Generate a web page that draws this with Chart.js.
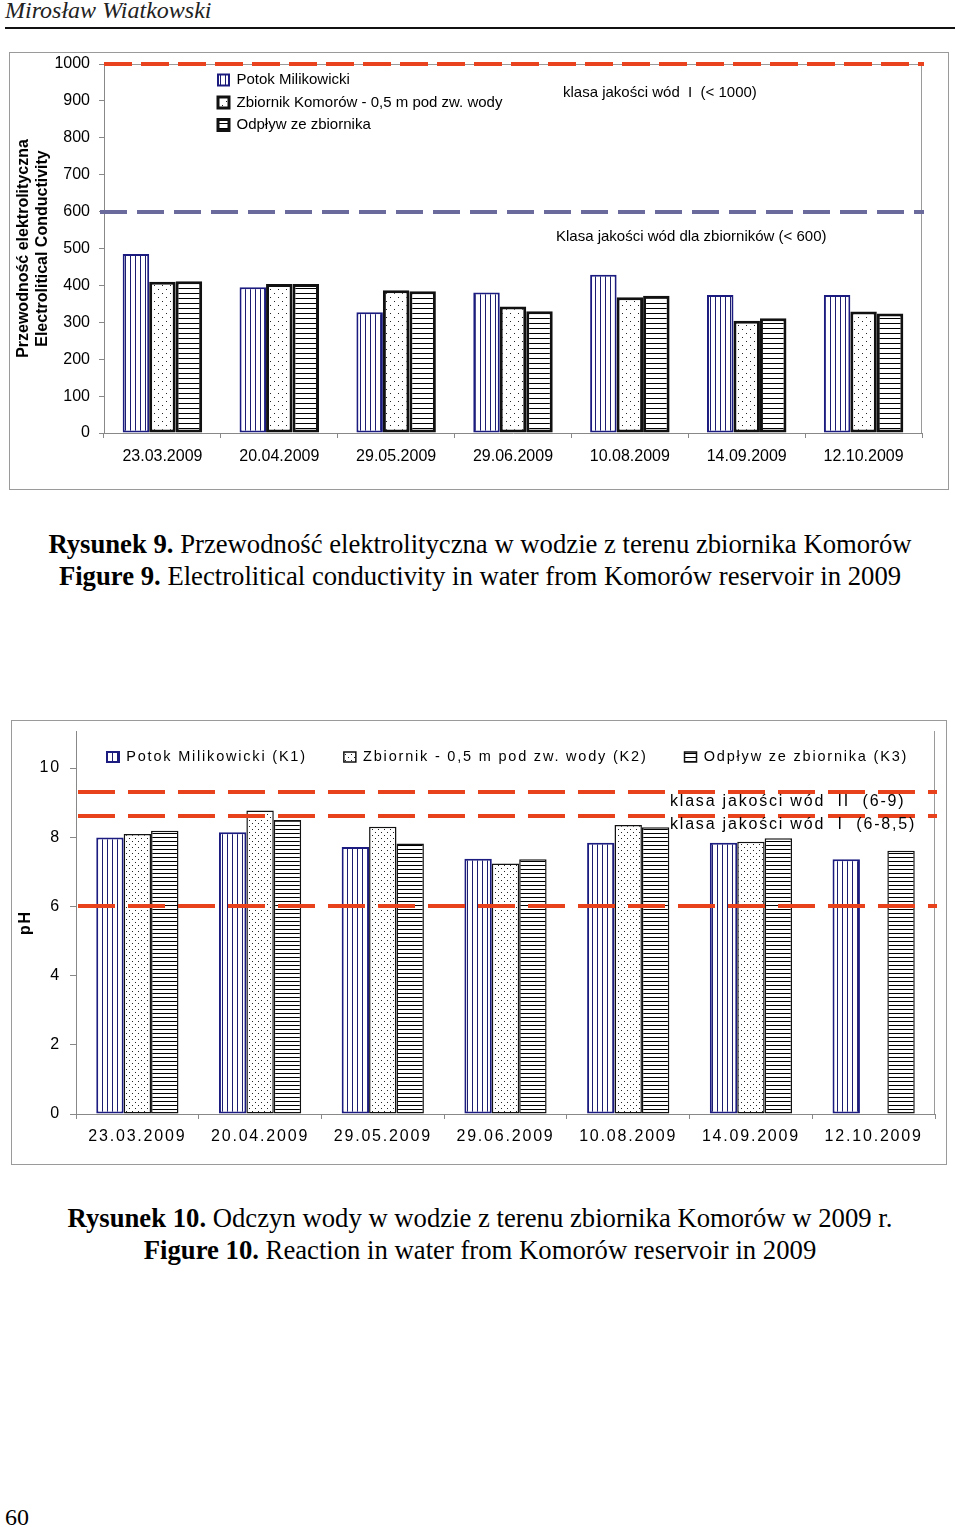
<!DOCTYPE html>
<html>
<head>
<meta charset="utf-8">
<script src="https://cdn.jsdelivr.net/npm/chart.js@4.4.1/dist/chart.umd.min.js"></script>
<style>
  body { margin: 0; background: #fff; }
  #strona { position: relative; width: 960px; height: 1527px; overflow: hidden; font-family: "Liberation Serif", "Times New Roman", serif; color: #000; }
  .autor { position: absolute; left: 5px; top: -4px; font-style: italic; font-size: 24px; line-height: 28px; color: #222; }
  .linia { position: absolute; left: 5px; top: 27px; width: 950px; height: 2px; background: #111; }
  .ramka { position: absolute; border: 1px solid #9a9a9a; box-sizing: border-box; }
  .ramka .wykres { position: absolute; left: 0; top: 0; right: 0; bottom: 0; }
  .podpis { position: absolute; left: 0; width: 960px; text-align: center; font-size: 26.7px; line-height: 32px; }
  .nr { position: absolute; left: 5px; top: 1503px; font-size: 24px; line-height: 28px; }
</style>
</head>
<body>
<div id="strona">
  <div class="autor">Mirosław Wiatkowski</div>
  <div class="linia"></div>

  <div class="ramka" style="left:9px; top:52px; width:940px; height:438px;">
    <div class="wykres"><canvas id="przewodnosc"></canvas></div>
  </div>
  <div class="podpis" style="top:528px;">
    <b>Rysunek 9.</b> Przewodność elektrolityczna w wodzie z terenu zbiornika Komorów<br>
    <b>Figure 9.</b> Electrolitical conductivity in water from Komorów reservoir in 2009
  </div>

  <div class="ramka" style="left:11px; top:720px; width:936px; height:445px;">
    <div class="wykres"><canvas id="odczyn"></canvas></div>
  </div>
  <div class="podpis" style="top:1202px;">
    <b>Rysunek 10.</b> Odczyn wody w wodzie z terenu zbiornika Komorów w 2009 r.<br>
    <b>Figure 10.</b> Reaction in water from Komorów reservoir in 2009
  </div>

  <div class="nr">60</div>
</div>

<script>
// daty poboru
const daty = ['23.03.2009', '20.04.2009', '29.05.2009', '29.06.2009', '10.08.2009', '14.09.2009', '12.10.2009'];

// przewodnosc elektrolityczna
const przewSerie = ['Potok Milikowicki', 'Zbiornik Komorów - 0,5 m pod zw. wody', 'Odpływ ze zbiornika'];
const przewK1 = [485, 395, 327, 381, 429, 374, 374];
const przewK2 = [410, 404, 387, 343, 368, 304, 329];
const przewK3 = [411, 404, 384, 330, 372, 311, 324];
const przewProgi = [1000, 600];
const przewOpisy = ['klasa jakości wód  I  (< 1000)', 'Klasa jakości wód dla zbiorników (< 600)'];

// odczyn pH
const phSerie = ['Potok Milikowicki (K1)', 'Zbiornik - 0,5 m pod zw. wody (K2)', 'Odpływ ze zbiornika (K3)'];
const phK1 = [7.99, 8.14, 7.72, 7.38, 7.84, 7.84, 7.36];
const phK2 = [8.09, 8.77, 8.30, 7.24, 8.35, 7.87, null];
const phK3 = [8.19, 8.50, 7.82, 7.36, 8.29, 7.97, 7.61];
const phProgi = [9.3, 8.62, 6];
const phOpisy = ['klasa jakości wód  II  (6-9)', 'klasa jakości wód  I  (6-8,5)'];

Chart.defaults.color = '#000';
Chart.defaults.font.family = '"Liberation Sans", Arial, sans-serif';

function wzor(w, h, rysuj) {
  const c = document.createElement('canvas');
  c.width = w; c.height = h;
  const g = c.getContext('2d');
  g.fillStyle = '#fff';
  g.fillRect(0, 0, w, h);
  rysuj(g);
  return g.createPattern(c, 'repeat');
}
const pionowe = (krok, kolor) => wzor(krok, 2, g => { g.fillStyle = kolor; g.fillRect(0, 0, 1, 2); });
const poziome = krok => wzor(2, krok, g => { g.fillStyle = '#000'; g.fillRect(0, 0, 2, 1); });
const kropki = krok => wzor(krok * 2, krok * 2, g => {
  g.fillStyle = '#222';
  g.fillRect(0, 0, 1, 1);
  g.fillRect(krok, krok, 1, 1);
});

// linie progowe, ramka obszaru i opisy
const progi = {
  id: 'progi',
  afterDatasetsDraw(chart, args, opts) {
    const { ctx, chartArea: a } = chart;
    const y = chart.scales.y;
    ctx.save();
    ctx.strokeStyle = '#9a9a9a';
    ctx.lineWidth = 1;
    ctx.beginPath();
    if (opts.gora) { ctx.moveTo(a.left, a.top + 0.5); ctx.lineTo(a.right, a.top + 0.5); }
    ctx.moveTo(a.right - 0.5, a.top);
    ctx.lineTo(a.right - 0.5, a.bottom);
    ctx.stroke();
    opts.linie.forEach(l => {
      const py = Math.round(y.getPixelForValue(l.wartosc));
      ctx.strokeStyle = l.kolor;
      ctx.lineWidth = 4;
      ctx.setLineDash(l.kreska);
      ctx.beginPath();
      ctx.moveTo(a.left + l.start, py);
      ctx.lineTo(a.right + 2, py);
      ctx.stroke();
    });
    ctx.setLineDash([]);
    ctx.fillStyle = '#000';
    ctx.font = opts.font;
    ctx.textBaseline = 'middle';
    opts.opisy.forEach(o => ctx.fillText(o.tekst, o.x, o.y));
    ctx.restore();
  }
};

// przesuniecie legendy w miejsce jak na oryginale
const legendaPoz = {
  id: 'legendaPoz',
  beforeInit(chart, args, opts) {
    if (!opts.bezMiejsca) return;
    const fit = chart.legend.fit;
    chart.legend.fit = function () { fit.call(this); this.height = 0; };
  },
  afterLayout(chart, args, opts) {
    const lg = chart.legend;
    lg.left = opts.x; lg.right = opts.x + chart.width;
    lg.top = opts.y; lg.bottom = opts.y + opts.h;
  }
};

const odstep = {
  id: 'odstep',
  beforeUpdate(chart) { chart.ctx.letterSpacing = '1.8px'; },
  beforeDraw(chart) { chart.ctx.letterSpacing = '1.8px'; }
};

// Rysunek 9
new Chart(document.getElementById('przewodnosc'), {
  type: 'bar',
  data: {
    labels: daty,
    datasets: [
      { label: przewSerie[0], data: przewK1, backgroundColor: pionowe(5, '#1c1c70'), borderColor: '#1c1c80', borderWidth: 2, borderSkipped: false },
      { label: przewSerie[1], data: przewK2, backgroundColor: kropki(4), borderColor: '#111', borderWidth: 3, borderSkipped: false },
      { label: przewSerie[2], data: przewK3, backgroundColor: poziome(5), borderColor: '#111', borderWidth: 3, borderSkipped: false }
    ]
  },
  options: {
    responsive: true,
    maintainAspectRatio: false,
    animation: false,
    layout: { padding: { top: 11, right: 26, left: 0, bottom: 0 } },
    datasets: { bar: { categoryPercentage: 0.68, barPercentage: 1 } },
    scales: {
      x: {
        grid: { drawOnChartArea: false, tickLength: 5, color: '#888', offset: true },
        border: { color: '#888' },
        ticks: { font: { size: 16 }, padding: 9, maxRotation: 0 },
        afterFit: s => { s.height = 56; }
      },
      y: {
        min: 0, max: 1000,
        grid: { drawOnChartArea: false, tickLength: 5, color: '#888' },
        border: { color: '#888' },
        ticks: { stepSize: 100, font: { size: 16 }, padding: 9, callback: v => String(v) },
        title: {
          display: true,
          text: ['Przewodność elektrolityczna', 'Electrolitical Conductivity'],
          font: { size: 16, weight: 'bold' },
          padding: { top: 3.5, bottom: 0 }
        },
        afterFit: s => { s.width = 94; s.paddingTop = 0; }
      }
    },
    plugins: {
      tooltip: { enabled: false },
      legend: {
        position: 'chartArea',
        align: 'start',
        labels: { boxWidth: 11, boxHeight: 11, padding: 7.5, font: { size: 15 } }
      },
      legendaPoz: { x: 200.5, y: 12, h: 100 },
      progi: {
        gora: true,
        font: '15px "Liberation Sans", Arial, sans-serif',
        linie: [
          { wartosc: przewProgi[0], kolor: '#e8421e', kreska: [28, 9], start: 0 },
          { wartosc: przewProgi[1], kolor: '#6a6a9c', kreska: [27, 10], start: -4 }
        ],
        opisy: [
          { tekst: przewOpisy[0], x: 553, y: 40 },
          { tekst: przewOpisy[1], x: 546, y: 184 }
        ]
      }
    }
  },
  plugins: [progi, legendaPoz]
});

// Rysunek 10
new Chart(document.getElementById('odczyn'), {
  type: 'bar',
  data: {
    labels: daty,
    datasets: [
      { label: phSerie[0], data: phK1, backgroundColor: pionowe(5, '#1c1c70'), borderColor: '#1c1c80', borderWidth: 2, borderSkipped: false },
      { label: phSerie[1], data: phK2, backgroundColor: kropki(3), borderColor: '#111', borderWidth: 1.5, borderSkipped: false },
      { label: phSerie[2], data: phK3, backgroundColor: poziome(4), borderColor: '#111', borderWidth: 1.5, borderSkipped: false }
    ]
  },
  options: {
    responsive: true,
    maintainAspectRatio: false,
    animation: false,
    layout: { padding: { top: 10, right: 11, left: 0, bottom: 0 } },
    datasets: { bar: { categoryPercentage: 0.67, barPercentage: 1 } },
    scales: {
      x: {
        grid: { drawOnChartArea: false, tickLength: 5, color: '#888', offset: true },
        border: { color: '#888' },
        ticks: { font: { size: 16 }, padding: 8, maxRotation: 0 },
        afterFit: s => { s.height = 50; }
      },
      y: {
        min: 0, max: 11.07,
        grid: { drawOnChartArea: false, tickLength: 6, color: '#888' },
        border: { color: '#888' },
        ticks: { stepSize: 2, font: { size: 16 }, padding: 9 },
        afterBuildTicks: s => { s.ticks = s.ticks.filter(t => t.value <= 10); },
        title: {
          display: true,
          text: 'pH',
          font: { size: 16, weight: 'bold' },
          padding: { top: 3.5, bottom: 0 }
        },
        afterFit: s => { s.width = 64; s.paddingTop = 0; }
      }
    },
    plugins: {
      tooltip: { enabled: false },
      legend: {
        position: 'top',
        align: 'start',
        labels: { boxWidth: 12, boxHeight: 10, padding: 37, font: { size: 14.5 } }
      },
      legendaPoz: { bezMiejsca: true, x: 58, y: -8.25, h: 80 },
      progi: {
        gora: false,
        font: '16px "Liberation Sans", Arial, sans-serif',
        linie: [
          { wartosc: phProgi[0], kolor: '#e8421c', kreska: [37, 13], start: 2 },
          { wartosc: phProgi[1], kolor: '#e8421c', kreska: [37, 13], start: 2 },
          { wartosc: phProgi[2], kolor: '#e8421c', kreska: [37, 13], start: 2 }
        ],
        opisy: [
          { tekst: phOpisy[0], x: 658, y: 81 },
          { tekst: phOpisy[1], x: 658, y: 104 }
        ]
      }
    }
  },
  plugins: [odstep, progi, legendaPoz]
});
</script>
</body>
</html>
